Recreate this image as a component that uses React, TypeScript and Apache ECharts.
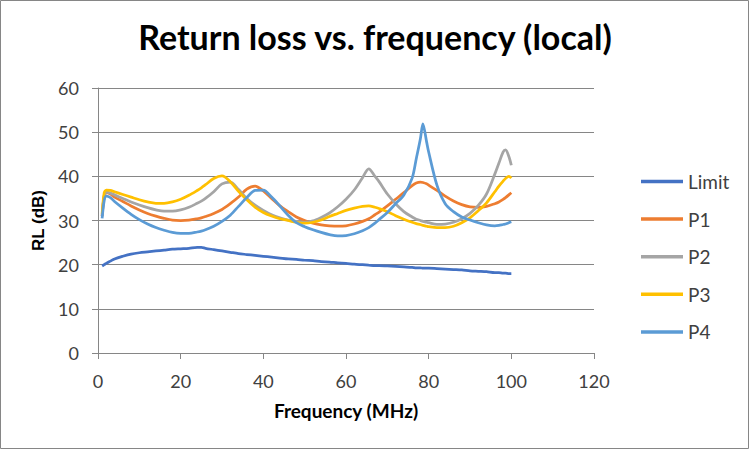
import React, { useEffect, useRef } from "react";
import * as echarts from "echarts";

const freq = [1, 1.5, 2, 3, 4, 6, 8, 10, 12, 14, 16, 18, 20, 22, 24, 25, 26, 28, 30, 32, 34, 36, 38, 40, 42, 44, 46, 48, 50, 52, 54, 56, 58, 60, 62, 64, 65.5, 67, 68, 70, 72, 74, 76, 77, 78, 78.6, 79.5, 80, 82, 84, 86, 88, 90, 92, 94, 96, 97, 98, 98.6, 99.4, 100];

const limit = [19.7, 20.0, 20.3, 20.8, 21.3, 21.9, 22.4, 22.7, 22.9, 23.1, 23.3, 23.5, 23.6, 23.7, 23.9, 23.9, 23.7, 23.4, 23.1, 22.8, 22.5, 22.3, 22.1, 21.9, 21.7, 21.5, 21.3, 21.2, 21.0, 20.9, 20.7, 20.6, 20.4, 20.3, 20.1, 20.0, 19.9, 19.8, 19.8, 19.7, 19.6, 19.5, 19.4, 19.3, 19.3, 19.2, 19.2, 19.2, 19.1, 19.0, 18.9, 18.8, 18.6, 18.5, 18.4, 18.2, 18.2, 18.1, 18.1, 18.0, 18.0];

const p1 = [31.0, 35.5, 36.3, 36.0, 35.3, 34.3, 33.3, 32.4, 31.6, 31.0, 30.5, 30.1, 30.0, 30.1, 30.4, 30.6, 30.9, 31.6, 32.5, 33.8, 35.3, 37.1, 37.8, 36.7, 35.0, 33.3, 32.0, 30.8, 30.0, 29.4, 29.0, 28.8, 28.7, 28.8, 29.2, 29.8, 30.4, 31.3, 31.9, 33.3, 34.8, 36.3, 37.9, 38.5, 38.7, 38.6, 38.3, 38.0, 36.8, 35.5, 34.4, 33.6, 33.1, 33.0, 33.2, 33.8, 34.2, 34.8, 35.2, 35.8, 36.3];

const p2 = [31.0, 35.6, 36.4, 36.2, 35.8, 35.0, 34.2, 33.5, 32.9, 32.4, 32.1, 32.1, 32.4, 33.0, 33.9, 34.4, 35.0, 36.5, 38.3, 38.7, 37.0, 35.0, 33.5, 32.3, 31.3, 30.6, 30.1, 29.8, 29.6, 29.9, 30.7, 31.7, 33.1, 34.8, 36.9, 39.7, 41.7, 40.0, 38.8, 36.0, 33.8, 32.0, 30.8, 30.3, 30.0, 29.8, 29.6, 29.5, 29.1, 29.2, 29.6, 30.4, 31.6, 33.4, 36.0, 40.5, 43.0, 45.5, 46.0, 44.5, 42.5];

const p3 = [31.5, 36.3, 36.9, 36.8, 36.5, 35.9, 35.3, 34.7, 34.2, 33.9, 33.9, 34.2, 34.8, 35.7, 36.8, 37.4, 38.1, 39.5, 40.1, 38.8, 36.6, 34.7, 33.0, 31.8, 31.0, 30.4, 30.0, 29.6, 29.4, 29.6, 30.1, 30.9, 31.6, 32.3, 32.8, 33.2, 33.3, 33.0, 32.7, 32.0, 31.1, 30.3, 29.6, 29.3, 29.1, 28.9, 28.7, 28.6, 28.4, 28.4, 28.7, 29.5, 30.6, 32.2, 34.0, 36.5, 37.8, 38.9, 39.5, 40.0, 39.6];

const p4 = [30.5, 34.5, 35.5, 35.2, 34.3, 32.8, 31.4, 30.2, 29.2, 28.4, 27.8, 27.3, 27.1, 27.1, 27.4, 27.6, 27.9, 28.7, 29.8, 31.2, 33.2, 35.2, 36.8, 36.9, 35.3, 33.3, 31.2, 29.5, 28.6, 27.9, 27.3, 26.8, 26.5, 26.6, 27.0, 27.7, 28.4, 29.4, 30.2, 31.8, 33.8, 35.8, 39.6, 44.0, 48.5, 51.9, 47.8, 45.5, 38.0, 33.8, 32.0, 30.8, 30.1, 29.5, 29.0, 28.8, 28.9, 29.1, 29.2, 29.5, 29.7];

const seriesNames = ["Limit", "P1", "P2", "P3", "P4"];
const seriesValues = [limit, p1, p2, p3, p4];
const seriesColors = ["#4472C4", "#ED7D31", "#A5A5A5", "#FFC000", "#5B9BD5"];

const titleText = "Return loss vs. frequency (local)";
const xName = "Frequency (MHz)";
const yName = "RL (dB)";

export default function App() {
  const ref = useRef<HTMLDivElement>(null);
  useEffect(() => {
    if (!ref.current) return;
    const chart = echarts.init(ref.current, undefined, { renderer: "svg" });
    const font = "Lato, 'Noto Sans', sans-serif";
    chart.setOption({
      animation: false,
      backgroundColor: "#ffffff",
      title: {
        text: titleText,
        left: "center",
        top: 14,
        textStyle: { fontFamily: font, fontSize: 34, fontWeight: "bold", color: "#000000" },
      },
      grid: { left: 98, right: 156, top: 88, bottom: 97, containLabel: false },
      legend: {
        orient: "vertical",
        left: 636,
        top: 167,
        itemWidth: 42,
        itemHeight: 3.5,
        itemGap: 18.6,
        icon: "rect",
        textStyle: { fontFamily: font, fontSize: 19, color: "#404040" },
        data: seriesNames,
      },
      xAxis: {
        type: "value",
        min: 0,
        max: 120,
        interval: 20,
        name: xName,
        nameLocation: "middle",
        nameGap: 48,
        nameTextStyle: { fontFamily: font, fontSize: 19, fontWeight: "bold", color: "#000000" },
        axisLine: { show: true, lineStyle: { color: "#868686", width: 1 } },
        axisTick: { show: true, length: 6, lineStyle: { color: "#868686" } },
        axisLabel: { fontFamily: font, fontSize: 18, color: "#404040", margin: 19 },
        splitLine: { show: false },
      },
      yAxis: {
        type: "value",
        min: 0,
        max: 60,
        interval: 10,
        name: yName,
        nameLocation: "middle",
        nameGap: 48,
        nameTextStyle: { fontFamily: "'Liberation Sans', Arial, sans-serif", fontSize: 17, fontWeight: "bold", color: "#000000" },
        axisLine: { show: true, lineStyle: { color: "#868686", width: 1 } },
        axisTick: { show: true, length: 6, lineStyle: { color: "#868686" } },
        axisLabel: { fontFamily: font, fontSize: 18, color: "#404040", margin: 19 },
        splitLine: { show: true, lineStyle: { color: "#868686", width: 1 } },
      },
      graphic: [
        {
          type: "rect",
          shape: { x: 0.5, y: 0.5, width: 748, height: 448 },
          style: { fill: "none", stroke: "#868686", lineWidth: 1 },
          silent: true,
        },
      ],
      series: seriesNames.map((name, k) => ({
        name,
        type: "line",
        symbol: "none",
        smooth: 0.3,
        color: seriesColors[k],
        lineStyle: { width: 2.75, color: seriesColors[k] },
        data: freq.map((f, i) => [f, seriesValues[k][i]]),
      })),
    });
    return () => chart.dispose();
  }, []);
  return (
    <div
      ref={ref}
      style={{ position: "absolute", left: 0, top: 0, width: 750, height: 450, background: "#fff" }}
    />
  );
}
